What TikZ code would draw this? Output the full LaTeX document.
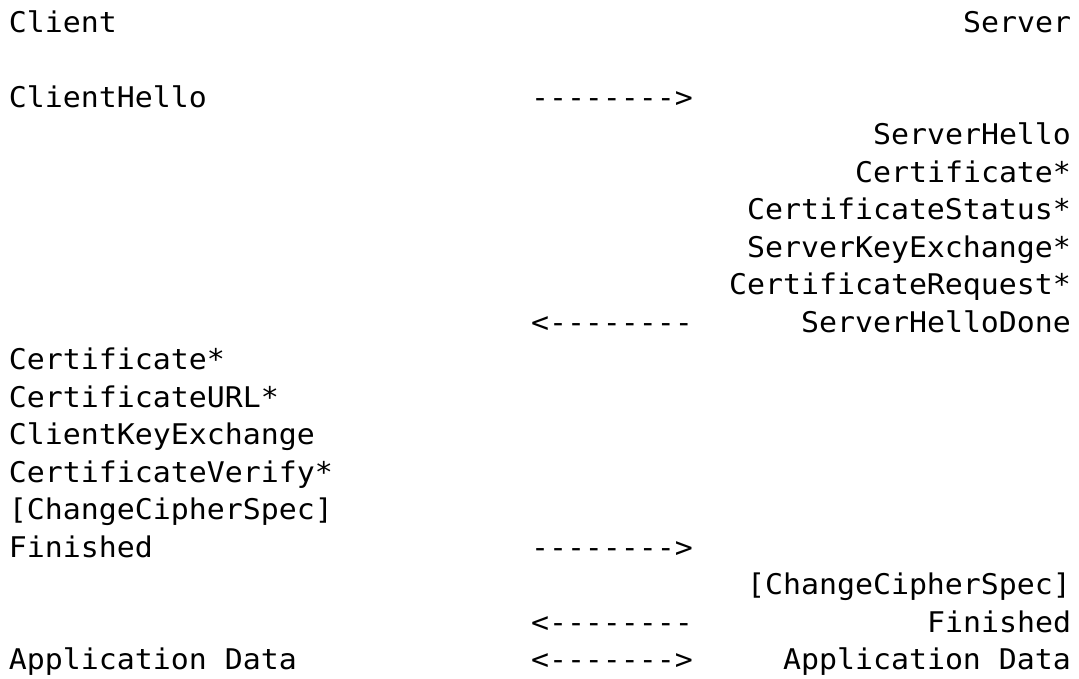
\documentclass[tikz,border=0pt]{standalone}
\usepackage{fontspec}
\newfontfamily\tlsmono[FakeStretch=1.049,Ligatures={TeXOff,CommonOff}]{DejaVu Sans Mono}
\begin{document}
\begin{tikzpicture}[x=1pt,y=-1pt,
  txt/.style={inner sep=0pt, outer sep=0pt, font=\tlsmono\fontsize{28.5}{37.5}\selectfont, text=black},
  lft/.style={txt, anchor=base west},
  rgt/.style={txt, anchor=base east},
  arw/.style={txt, anchor=base west}]
\useasboundingbox[fill=white] (0,0) rectangle (1079,678);
% columns: left 9, arrows 531, right end 1071
\node[lft] (client) at (9,32) {Client};
\node[rgt] (server) at (1071,32) {Server};
\node[lft] (chello) at (9,107) {ClientHello};
\node[arw] (a1) at (531,107) {-------->};
\node[rgt] (shello) at (1071,144.5) {ServerHello};
\node[rgt] (scert) at (1071,182) {Certificate*};
\node[rgt] (sstatus) at (1071,219.5) {CertificateStatus*};
\node[rgt] (skex) at (1071,257) {ServerKeyExchange*};
\node[rgt] (sreq) at (1071,294.5) {CertificateRequest*};
\node[arw] (a2) at (531,332) {<--------};
\node[rgt] (sdone) at (1071,332) {ServerHelloDone};
\node[lft] (ccert) at (9,369.5) {Certificate*};
\node[lft] (curl) at (9,407) {CertificateURL*};
\node[lft] (ckex) at (9,444.5) {ClientKeyExchange};
\node[lft] (cver) at (9,482) {CertificateVerify*};
\node[lft] (cccs) at (9,519.5) {[ChangeCipherSpec]};
\node[lft] (cfin) at (9,557) {Finished};
\node[arw] (a3) at (531,557) {-------->};
\node[rgt] (sccs) at (1071,594.5) {[ChangeCipherSpec]};
\node[arw] (a4) at (531,632) {<--------};
\node[rgt] (sfin) at (1071,632) {Finished};
\node[lft] (capp) at (9,669.5) {Application Data};
\node[arw] (a5) at (531,669.5) {<------->};
\node[rgt] (sapp) at (1071,669.5) {Application Data};
\end{tikzpicture}
\end{document}
